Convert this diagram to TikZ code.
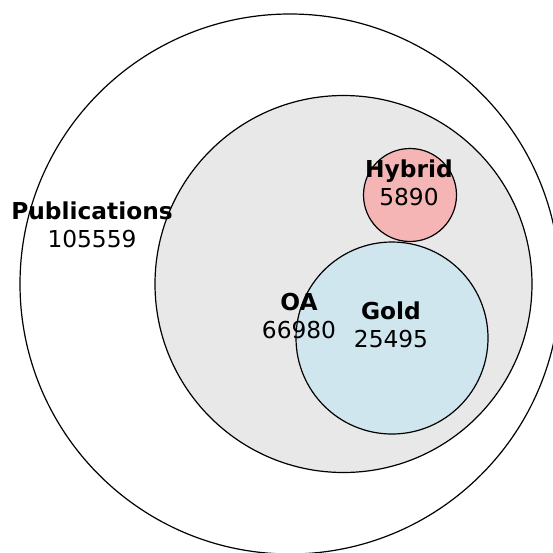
\documentclass[tikz,border=0pt]{standalone}
\usepackage{fontspec}
\setmainfont{DejaVu Sans}
\definecolor{oagray}{HTML}{E8E8E8}
\definecolor{goldblue}{HTML}{D0E6EE}
\definecolor{hybridpink}{HTML}{F5B5B5}
\tikzset{
  setcircle/.style={draw=black, line width=1.2pt},
  setlabel/.style={inner sep=0pt, align=center, font=\fontsize{23.3}{28}\selectfont}
}
\begin{document}
\begin{tikzpicture}[x=1pt, y=-1pt]
\useasboundingbox (0,0) rectangle (553,552);
\clip (0,0) rectangle (553,552);
\fill[white] (0,0) rectangle (553,552);
\draw[setcircle, fill=white] (290,284) circle[radius=270];
\draw[setcircle, fill=oagray] (343.5,284) circle[radius=188.5];
\draw[setcircle, fill=goldblue] (392,338) circle[radius=96];
\draw[setcircle, fill=hybridpink] (410,195) circle[radius=46.5];
\node[setlabel] (pub) at (92,225) {\textbf{Publications}\\105559};
\node[setlabel] (oa) at (299,316) {\textbf{OA}\\66980};
\node[setlabel] (gold) at (391,325) {\textbf{Gold}\\25495};
\node[setlabel] (hybrid) at (409,183) {\textbf{Hybrid}\\5890};
\end{tikzpicture}
\end{document}
